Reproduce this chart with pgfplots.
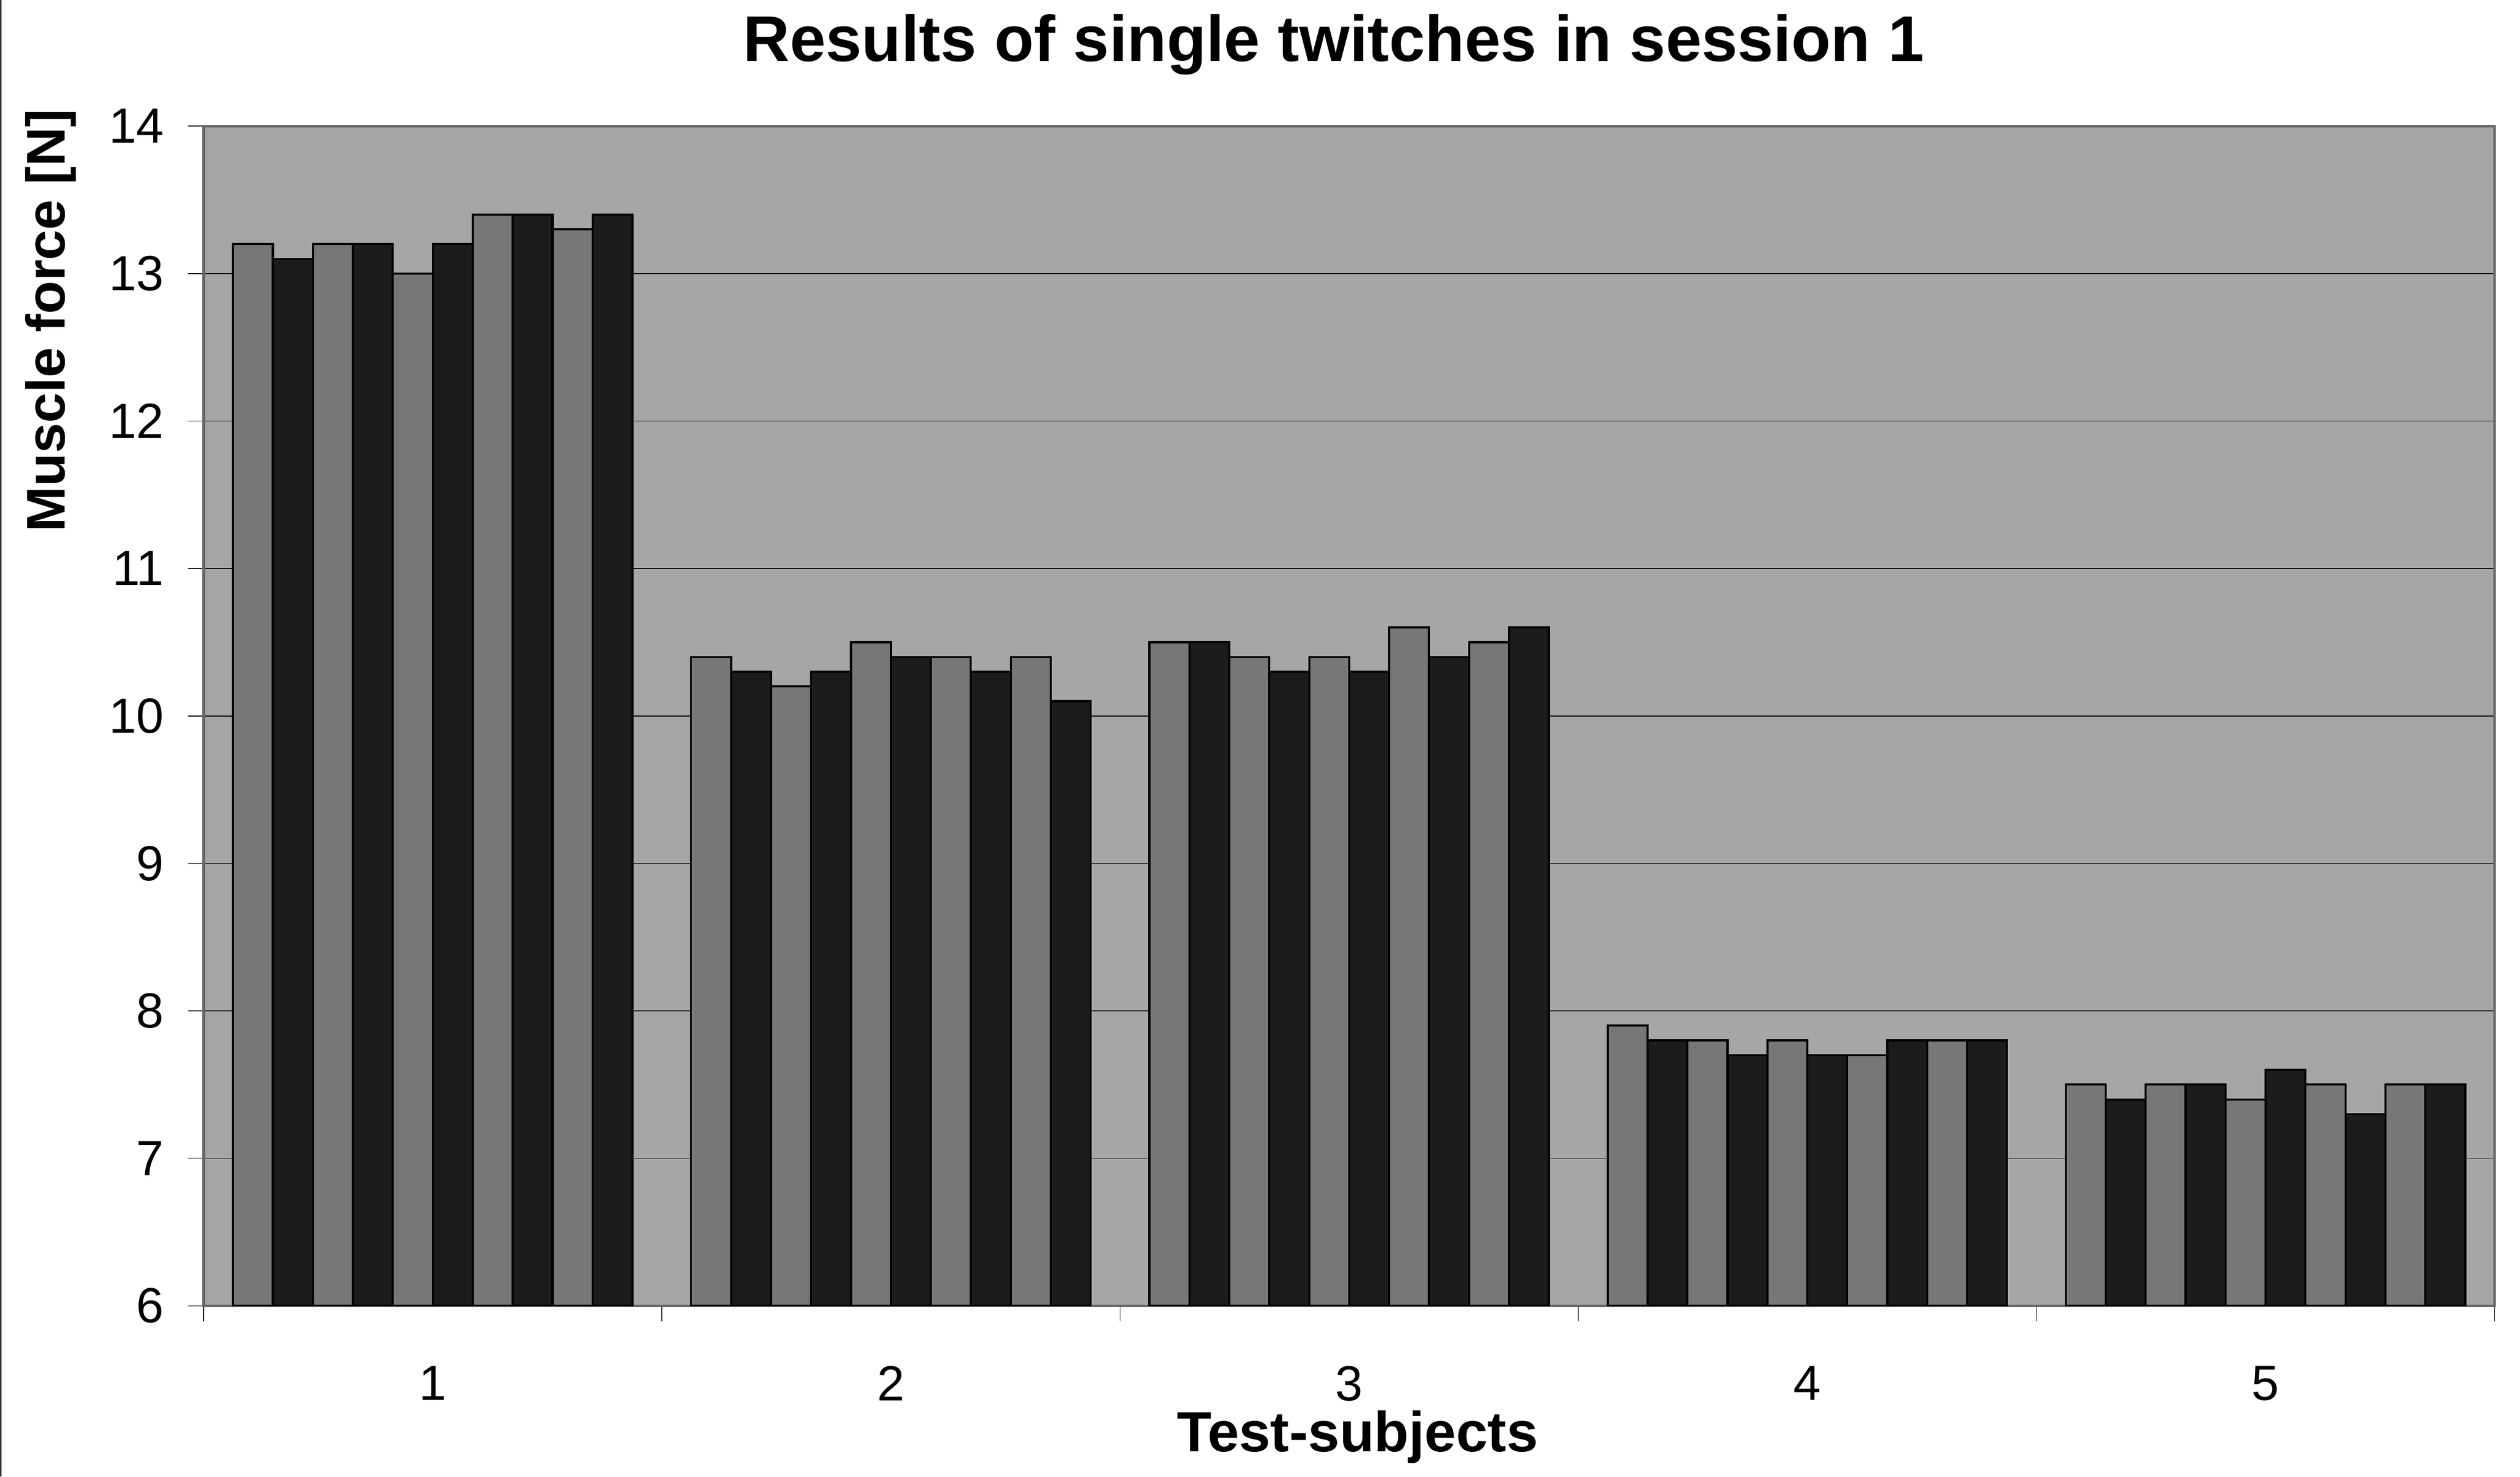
\documentclass[border=0pt]{standalone}
\usepackage{fontspec}
\setmainfont{Liberation Sans}
\usepackage{pgfplots}
\usepackage{pgfplotstable}
\pgfplotsset{compat=1.18}
\definecolor{bgA}{HTML}{A6A6A6}
\definecolor{barG}{HTML}{777777}
\definecolor{barD}{HTML}{1C1C1C}
\definecolor{frameC}{HTML}{666666}
\pgfplotstableread{
x s1 s2 s3 s4 s5 s6 s7 s8 s9 s10
1 13.2 13.1 13.2 13.2 13.0 13.2 13.4 13.4 13.3 13.4
2 10.4 10.3 10.2 10.3 10.5 10.4 10.4 10.3 10.4 10.1
3 10.5 10.5 10.4 10.3 10.4 10.3 10.6 10.4 10.5 10.6
4 7.9 7.8 7.8 7.7 7.8 7.7 7.7 7.8 7.8 7.8
5 7.5 7.4 7.5 7.5 7.4 7.6 7.5 7.3 7.5 7.5
}\datatable
\begin{document}
\begin{tikzpicture}
\begin{axis}[
  scale only axis,
  width=602.9pt, height=310.5pt,
  xmin=0.5, xmax=5.5, ymin=6, ymax=14,
  ybar=0pt, bar width=0.0872,
  xtick={0.5,1.5,2.5,3.5,4.5,5.5},
  x tick label as interval,
  xticklabels={1,2,3,4,5},
  ytick={6,7,...,14},
  /pgf/number format/assume math mode=true,
  tick align=outside,
  major tick length=4.1pt,
  tick style={black, line width=0.2pt},
  xtick pos=bottom, ytick pos=left,
  ymajorgrids,
  grid style={black, line width=0.2pt},
  axis line style={frameC, line width=0.7pt},
  axis background/.style={fill=bgA},
  ticklabel style={font=\fontsize{13}{13}\selectfont},
  yticklabel style={xshift=-2.8pt},
  xticklabel style={inner sep=0pt, yshift=-11.6pt},
  title={Results of single twitches in session 1},
  title style={font=\fontsize{17}{17}\selectfont\bfseries, at={(rel axis cs:0.4933,1.0551)}, anchor=base, yshift=-6pt},
  xlabel={Test-subjects},
  xlabel style={font=\fontsize{14.9}{14.9}\selectfont\bfseries, at={(rel axis cs:0.5037,-0.1234)}, anchor=base, inner sep=0pt},
  ylabel={Muscle force [N]},
  ylabel style={font=\fontsize{14.3}{14.3}\selectfont\bfseries, at={(rel axis cs:-0.0607,1.0151)}, anchor=base east, inner sep=0pt},
  every axis plot/.append style={draw=black, line width=0.55pt},
]
\addplot[fill=barG] table[x=x,y=s1]{\datatable};
\addplot[fill=barD] table[x=x,y=s2]{\datatable};
\addplot[fill=barG] table[x=x,y=s3]{\datatable};
\addplot[fill=barD] table[x=x,y=s4]{\datatable};
\addplot[fill=barG] table[x=x,y=s5]{\datatable};
\addplot[fill=barD] table[x=x,y=s6]{\datatable};
\addplot[fill=barG] table[x=x,y=s7]{\datatable};
\addplot[fill=barD] table[x=x,y=s8]{\datatable};
\addplot[fill=barG] table[x=x,y=s9]{\datatable};
\addplot[fill=barD] table[x=x,y=s10]{\datatable};
\coordinate (bl) at (rel axis cs:-0.0889,-0.1449);
\coordinate (tr) at (rel axis cs:1.0111,1.1069);
\coordinate (tl) at (rel axis cs:-0.0889,1.1069);
\end{axis}
\draw[black!80, line width=0.3pt] ([xshift=0.2pt]bl) -- ([xshift=0.2pt]tl);
\pgfresetboundingbox
\path[use as bounding box] (bl) rectangle (tr);
\end{tikzpicture}
\end{document}
